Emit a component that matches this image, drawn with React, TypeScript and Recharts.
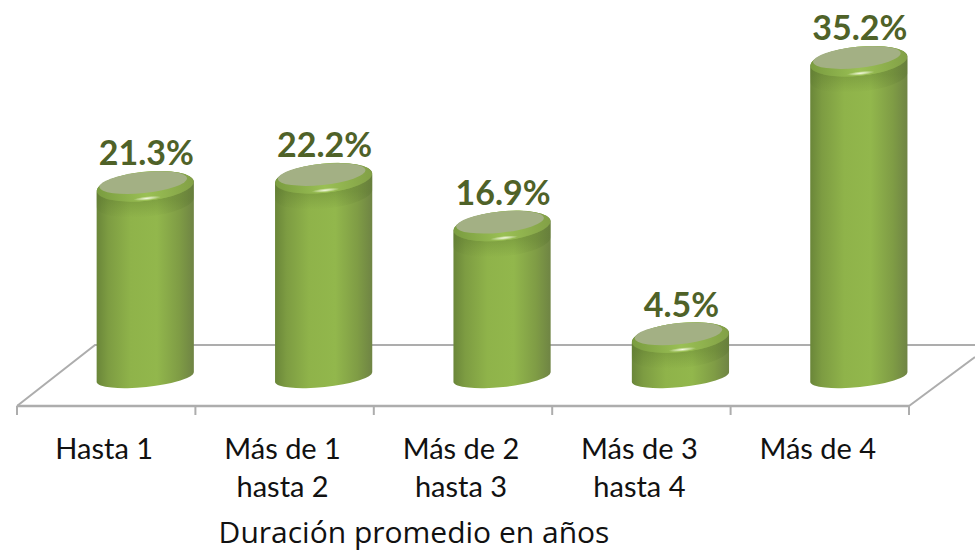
import React from 'react';
import { BarChart, Bar, XAxis, YAxis, LabelList, Label } from 'recharts';

const CATEGORIES = ['Hasta 1', 'Más de 1\nhasta 2', 'Más de 2\nhasta 3', 'Más de 3\nhasta 4', 'Más de 4'];
const VALUES = [21.3, 22.2, 16.9, 4.5, 35.2];

const data = CATEGORIES.map((name, i) => ({ name, value: VALUES[i] }));

const WIDTH = 975;
const HEIGHT = 551;
const FONT = 'Lato, sans-serif';
const GRID = '#adadad';
const LABEL_GREEN = '#4f6228';

// the 3D look puts the cylinders on the back of the floor, right of the band centre
const DEPTH_X = 39;
const TILT = 5;
const RY = 14.5;
const BAND = 178.4;

const Cylinder = ({ x, y, width, height }: any) => {
    const cx = x + width / 2 + DEPTH_X;
    const rx = 48.6;
    const left = cx - rx;
    const right = cx + rx;
    const bottom = y + height;
    const rot = (Math.atan2(-TILT * 2, rx * 2) * 180) / Math.PI;
    const body = `M${left},${y + TILT} L${left},${bottom + TILT - 1}
        A${rx},10 ${rot} 0 0 ${right},${bottom - TILT - 1}
        L${right},${y - TILT} A${rx},${RY} ${rot} 0 0 ${left},${y + TILT} Z`;
    const shade = `M${left},${y + TILT} L${left},${y + TILT + 16} A${rx},${RY} ${rot} 0 0 ${right},${y - TILT + 16}
        L${right},${y - TILT} A${rx},${RY} ${rot} 0 1 ${left},${y + TILT} Z`;
    return (
        <g>
            <path d={body} fill="url(#cylSide)" />
            <path d={shade} fill="url(#cylShade)" />
            <ellipse cx={cx} cy={y} rx={rx} ry={RY} transform={`rotate(${rot} ${cx} ${y})`} fill="url(#cylRim)" />
            <ellipse cx={cx - 2} cy={y - 3.7} rx={rx - 4.5} ry={10.5} transform={`rotate(${rot} ${cx - 2} ${y - 3.7})`} fill="#a3b084" />
            <ellipse cx={cx + 2} cy={y + 12} rx={14} ry={2} transform={`rotate(${rot} ${cx + 2} ${y + 12})`} fill="url(#cylGlow)" />
        </g>
    );
};

const ValueLabel = ({ x, y, width, value }: any) => (
    <text
        x={x + width / 2 + DEPTH_X + 1}
        y={y - 21}
        textAnchor="middle"
        fontFamily={FONT}
        fontWeight={700}
        fontSize={34}
        fill={LABEL_GREEN}
    >
        {`${value.toFixed(1)}%`}
    </text>
);

// labels centred in the band, tick marks on the band edges
const BandTick = ({ x, y, payload, index }: any) => {
    const lines = String(payload.value).split('\n');
    return (
        <g>
            <line x1={x - BAND / 2} x2={x - BAND / 2} y1={y - 8} y2={y + 1} stroke={GRID} strokeWidth={2} />
            {index === CATEGORIES.length - 1 && (
                <line x1={x + BAND / 2} x2={x + BAND / 2} y1={y - 8} y2={y + 1} stroke={GRID} strokeWidth={2} />
            )}
            <text textAnchor="middle" fontFamily={FONT} fontSize={29} fill="#111111">
                {lines.map((line, i) => (
                    <tspan key={line} x={x - 2} y={y + 45 + i * 38}>
                        {line}
                    </tspan>
                ))}
            </text>
        </g>
    );
};

export default function App() {
    return (
        <div style={{ position: 'absolute', left: 0, top: 0, width: WIDTH, height: HEIGHT, background: '#fff' }}>
            <BarChart
                width={WIDTH}
                height={HEIGHT}
                data={data}
                margin={{ top: 10, right: 66, bottom: 0, left: 17 }}
                barCategoryGap="22%"
            >
                <defs>
                    <linearGradient id="cylSide" x1="0" y1="0" x2="1" y2="0">
                        <stop offset="0" stopColor="#6a8639" />
                        <stop offset="0.12" stopColor="#7d9c42" />
                        <stop offset="0.35" stopColor="#8fb34a" />
                        <stop offset="0.62" stopColor="#92b74c" />
                        <stop offset="0.85" stopColor="#7f9c45" />
                        <stop offset="1" stopColor="#6f8444" />
                    </linearGradient>
                    <linearGradient id="cylRim" x1="0" y1="0" x2="1" y2="0">
                        <stop offset="0" stopColor="#7a9c40" />
                        <stop offset="0.5" stopColor="#9ac054" />
                        <stop offset="1" stopColor="#82a046" />
                    </linearGradient>
                    <linearGradient id="cylShade" x1="0" y1="0" x2="0" y2="1">
                        <stop offset="0.5" stopColor="#54702a" stopOpacity={0.3} />
                        <stop offset="1" stopColor="#54702a" stopOpacity={0} />
                    </linearGradient>
                    <radialGradient id="cylGlow">
                        <stop offset="0" stopColor="#f6fae2" />
                        <stop offset="1" stopColor="#f6fae2" stopOpacity={0} />
                    </radialGradient>
                </defs>
                {/* floor of the 3D chart */}
                <polyline points="17,406 95,345 975,345" fill="none" stroke={GRID} strokeWidth={2} />
                <line x1={909} y1={406} x2={975} y2={357} stroke={GRID} strokeWidth={2} />
                <YAxis hide domain={[-3.11, 40.89]} />
                <XAxis
                    dataKey="name"
                    height={145}
                    axisLine={{ stroke: GRID, strokeWidth: 2.5 }}
                    tickLine={false}
                    interval={0}
                    tick={<BandTick />}
                >
                    <Label
                        value="Duración promedio en años"
                        position="insideBottom"
                        offset={8}
                        dx={-49}
                        style={{ fontFamily: 'Open Sans, sans-serif', fontSize: 30, fill: '#111111' }}
                    />
                </XAxis>
                <Bar dataKey="value" isAnimationActive={false} shape={<Cylinder />}>
                    <LabelList dataKey="value" content={<ValueLabel />} />
                </Bar>
            </BarChart>
        </div>
    );
}
